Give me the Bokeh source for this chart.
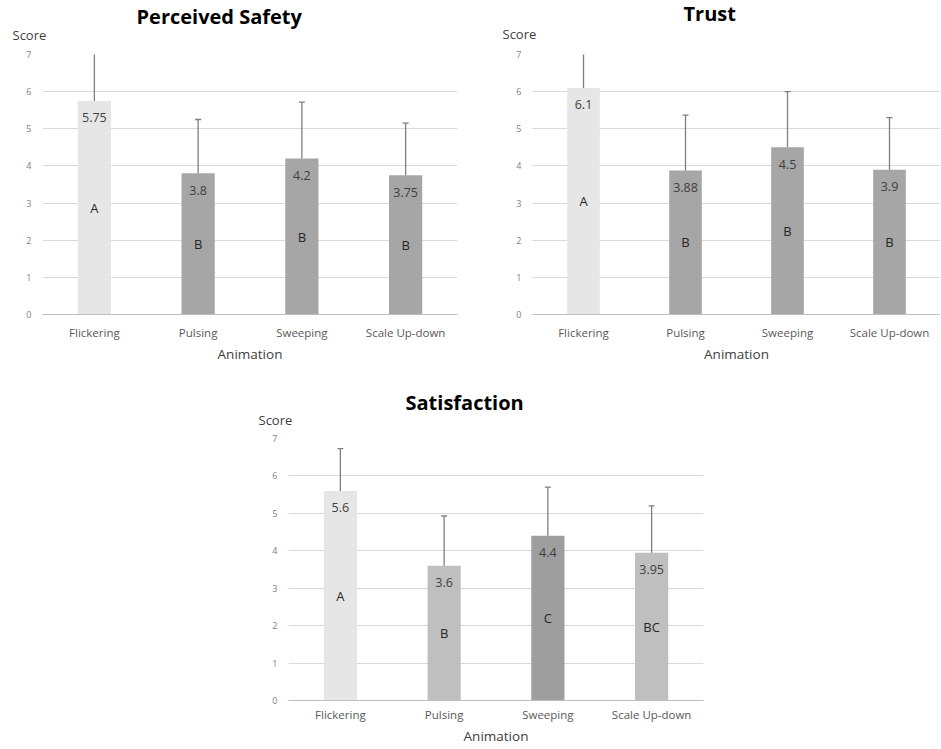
from bokeh.plotting import figure
from bokeh.models import (FactorRange, Range1d, FixedTicker, Title, ColumnDataSource, Spacer)
from bokeh.layouts import row, column
from bokeh.core.properties import value
from bokeh.embed import file_html
from bokeh.resources import INLINE

animations = ["Flickering", "Pulsing", "Sweeping", "Scale Up-down"]
y_ticks = [0, 1, 2, 3, 4, 5, 6, 7]

safety_means = [5.75, 3.8, 4.2, 3.75]
safety_upper = [7.25, 5.25, 5.72, 5.15]
safety_groups = ["A", "B", "B", "B"]
safety_labels = ["5.75", "3.8", "4.2", "3.75"]

trust_means = [6.1, 3.88, 4.5, 3.9]
trust_upper = [7.3, 5.37, 6.0, 5.3]
trust_groups = ["A", "B", "B", "B"]
trust_labels = ["6.1", "3.88", "4.5", "3.9"]

satisfaction_means = [5.6, 3.6, 4.4, 3.95]
satisfaction_upper = [6.73, 4.93, 5.7, 5.2]
satisfaction_groups = ["A", "B", "C", "BC"]
satisfaction_labels = ["5.6", "3.6", "4.4", "3.95"]

FONT = "Open Sans"


def panel(title, means, upper, groups, labels, colors, width, height, bl, br, bt, bb,
          title_dx, score_standoff, title_standoff, label_standoff, axis_label_standoff):
    src = ColumnDataSource(dict(
        x=animations, top=means, upper=upper, mid=[m / 2 for m in means],
        grp=groups, lab=labels, color=colors))
    p = figure(x_range=FactorRange(*animations), y_range=Range1d(0, 7),
               width=width, height=height, output_backend="svg", toolbar_location=None,
               min_border_left=bl, min_border_right=br,
               min_border_top=bt, min_border_bottom=bb, outline_line_color=None,
               background_fill_color="white", border_fill_color="white")
    p.xgrid.visible = False
    p.ygrid.grid_line_color = "#d9d9d9"
    p.ygrid.grid_line_width = 1

    yax = p.yaxis[0]
    yax.ticker = FixedTicker(ticks=y_ticks)
    yax.axis_line_color = None
    yax.major_tick_line_color = None
    yax.major_tick_out = 0
    yax.major_tick_in = 0
    yax.minor_tick_line_color = None
    yax.major_label_text_font = FONT
    yax.major_label_text_font_size = "9px"
    yax.major_label_text_color = "#808080"
    yax.major_label_standoff = 11

    xax = p.xaxis[0]
    xax.axis_line_color = "#bfbfbf"
    xax.major_tick_line_color = None
    xax.major_tick_out = 0
    xax.major_tick_in = 0
    xax.minor_tick_line_color = None
    xax.major_label_standoff = label_standoff
    xax.major_label_text_font = FONT
    xax.major_label_text_font_size = "11.5px"
    xax.major_label_text_color = "#595959"
    xax.axis_label = "Animation"
    xax.axis_label_text_font = FONT
    xax.axis_label_text_font_size = "13.5px"
    xax.axis_label_text_font_style = "normal"
    xax.axis_label_text_color = "#404040"
    xax.axis_label_standoff = axis_label_standoff

    p.vbar(x="x", top="top", width=0.32, fill_color="color", line_color=None, source=src)
    p.segment(x0="x", y0="top", x1="x", y1="upper", line_color="#7f7f7f",
              line_width=1.3, source=src)
    p.scatter(x="x", y="upper", marker="dash", size=6, line_color="#7f7f7f",
              line_width=1.3, source=src)
    p.text(x="x", y="top", text="lab", text_align="center", text_baseline="middle",
           y_offset=17, text_font=value(FONT), text_font_size="12.5px",
           text_color="#404040", source=src)
    p.text(x="x", y="mid", text="grp", text_align="center", text_baseline="middle",
           text_font=value(FONT), text_font_size="13px", text_color="#262626", source=src)

    p.add_layout(Title(text="Score", align="left", offset=-30, standoff=score_standoff,
                       text_font=FONT, text_font_size="13px", text_font_style="normal",
                       text_color="#404040"), "above")
    p.add_layout(Title(text=title, align="left", offset=title_dx, standoff=title_standoff,
                       text_font=FONT, text_font_size="20px", text_font_style="bold",
                       text_color="#000000"), "above")
    return p


light = "#e6e6e6"
mid = "#bfbfbf"
dark = "#a6a6a6"

p1 = panel("Perceived Safety", safety_means, safety_upper, safety_groups, safety_labels,
           [light, dark, dark, dark], 470, 370, 42, 13, 54, 56, 94, 22, -35, 10, 2)
p2 = panel("Trust", trust_means, trust_upper, trust_groups, trust_labels,
           [light, dark, dark, dark], 470, 370, 62, 0, 52, 56, 151, 24, -33, 10, 2)
p3 = panel("Satisfaction", satisfaction_means, satisfaction_upper, satisfaction_groups,
           satisfaction_labels, [light, mid, "#9e9e9e", mid], 465, 378, 38, 12, 68, 48,
           117, 20, -34, 6, 2)

layout = column(row(p1, p2), row(Spacer(width=250, height=10), p3))

open("out.html", "w").write(file_html(layout, INLINE))
